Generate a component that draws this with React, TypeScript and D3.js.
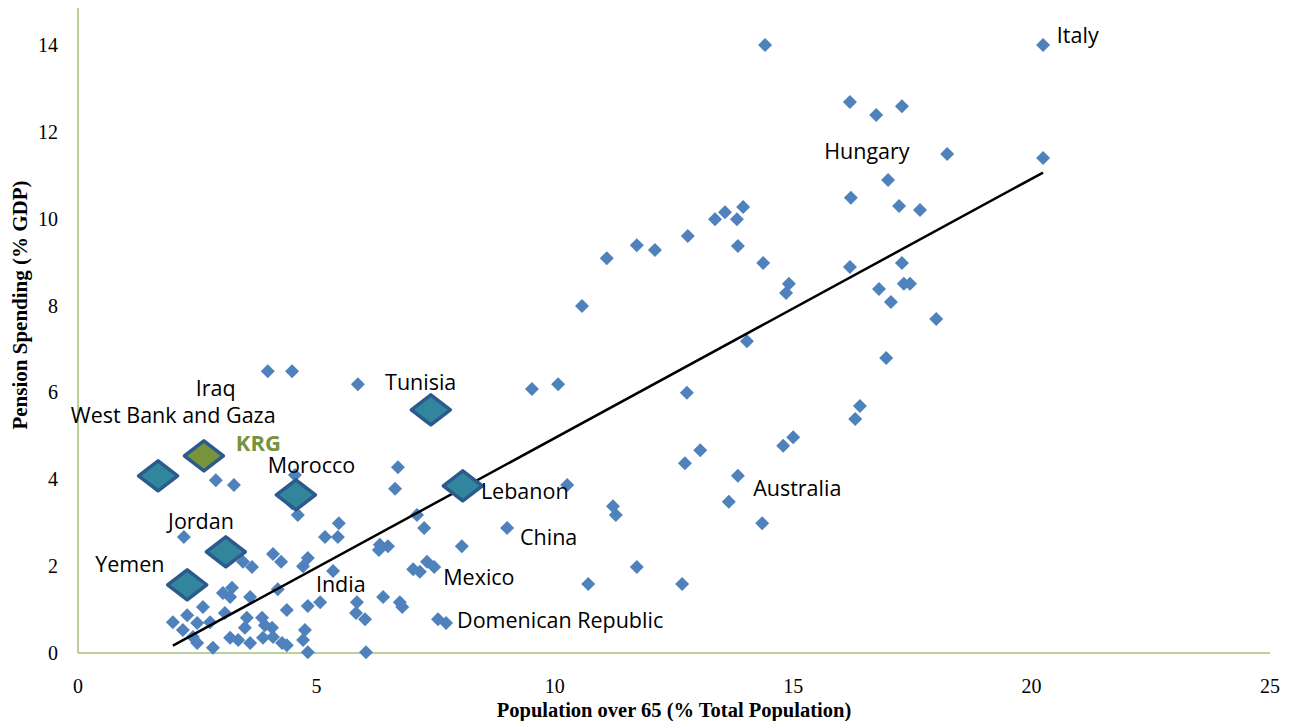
import React from "react";
import * as d3 from "d3";

// Small markers: population over 65 (% total) and pension spending (% GDP)
const popOver65 = [
  14.41, 20.24, 16.19, 16.74, 17.28, 18.23, 20.24, 16.99, 16.21, 17.22,
  17.66, 13.95, 13.57, 13.36, 13.82, 12.79, 11.72, 12.1, 11.09, 13.84,
  14.37, 16.19, 17.28, 14.91, 14.85, 16.8, 17.32, 17.45, 17.05, 18.0,
  10.57, 14.03, 16.95, 12.77, 16.4, 16.3, 15.0, 14.79, 13.05, 12.73,
  13.84, 13.65, 14.35, 9.52, 10.07, 10.26, 11.22, 11.28, 9.0, 8.05,
  11.72, 10.7, 12.67, 3.98, 4.49, 5.87, 2.89, 3.27, 4.55, 4.49,
  4.61, 6.71, 6.65, 5.47, 5.18, 5.45, 7.11, 7.26, 6.33, 6.5,
  6.31, 2.22, 4.09, 4.26, 3.46, 3.65, 4.82, 4.72, 5.35, 7.03,
  7.17, 7.32, 7.47, 4.19, 3.23, 3.04, 3.19, 3.61, 2.62, 4.38,
  4.82, 5.08, 5.85, 5.83, 6.02, 6.4, 6.75, 6.8, 7.55, 7.72,
  1.99, 2.29, 2.5, 2.2, 2.77, 3.08, 2.41, 2.5, 2.83, 3.19,
  3.36, 3.54, 3.5, 3.61, 3.86, 3.92, 3.88, 4.07, 4.09, 4.28,
  4.38, 4.76, 4.72, 4.82, 6.04,
];
const pensionSpending = [
  14.0, 14.0, 12.69, 12.39, 12.59, 11.49, 11.4, 10.89, 10.48, 10.29,
  10.2, 10.27, 10.15, 9.99, 9.99, 9.6, 9.39, 9.28, 9.09, 9.37,
  8.98, 8.89, 8.98, 8.5, 8.29, 8.38, 8.5, 8.5, 8.08, 7.69,
  7.99, 7.18, 6.79, 5.99, 5.69, 5.39, 4.97, 4.77, 4.67, 4.37,
  4.08, 3.48, 2.99, 6.08, 6.19, 3.87, 3.38, 3.18, 2.88, 2.46,
  1.98, 1.59, 1.59, 6.49, 6.49, 6.19, 3.98, 3.87, 4.1, 3.45,
  3.18, 4.28, 3.78, 2.99, 2.67, 2.67, 3.18, 2.88, 2.49, 2.46,
  2.37, 2.67, 2.28, 2.1, 2.1, 1.98, 2.19, 2.0, 1.89, 1.93,
  1.87, 2.1, 1.98, 1.47, 1.5, 1.38, 1.29, 1.29, 1.06, 0.99,
  1.08, 1.17, 1.17, 0.92, 0.78, 1.29, 1.17, 1.06, 0.78, 0.69,
  0.71, 0.87, 0.69, 0.53, 0.71, 0.92, 0.37, 0.23, 0.12, 0.35,
  0.3, 0.81, 0.58, 0.23, 0.81, 0.64, 0.35, 0.58, 0.37, 0.23,
  0.18, 0.53, 0.3, 0.02, 0.02,
];

// Highlighted (large) markers
const highlightNames = ["Tunisia", "West Bank and Gaza", "Morocco", "Lebanon", "Jordan", "Yemen", "KRG"];
const highlightX = [7.4, 1.68, 4.57, 8.07, 3.1, 2.29, 2.64];
const highlightY = [5.6, 4.08, 3.64, 3.85, 2.33, 1.57, 4.54];

// Linear trend line
const trendSlope = 0.597;
const trendIntercept = -1.02;

// Annotation labels (data coordinates of label's left edge / middle)
const labelTexts = [
  "Italy", "Hungary", "Tunisia", "Iraq", "West Bank and Gaza", "KRG", "Morocco",
  "Lebanon", "Australia", "China", "Jordan", "Yemen", "Mexico", "India", "Domenican Republic",
];
const labelX = [20.53, 15.65, 6.44, 2.47, -0.15, 3.31, 3.98, 8.45, 14.16, 9.27, 1.89, 0.36, 7.66, 4.99, 7.95];
const labelY = [14.23, 11.54, 6.22, 6.1, 5.48, 4.82, 4.31, 3.71, 3.78, 2.67, 3.04, 2.03, 1.73, 1.57, 0.76];

const xTicks = [0, 5, 10, 15, 20, 25];
const yTicks = [0, 2, 4, 6, 8, 10, 12, 14];

export default function App() {
  const W = 1295;
  const H = 721;
  const x = d3.scaleLinear().domain([0, 25]).range([78, 1270]);
  const y = d3.scaleLinear().domain([0, 14]).range([653, 45]);
  const axisColor = "#A6C17A";

  const xs = d3.extent(popOver65) as [number, number];
  const trend = d3.line<number>()
    .x((v) => x(v))
    .y((v) => y(trendSlope * v + trendIntercept))([xs[0], xs[1]]);

  const smallDiamond = (cx: number, cy: number) => {
    const r = 7;
    return `M${cx - r},${cy}L${cx},${cy - r}L${cx + r},${cy}L${cx},${cy + r}Z`;
  };
  const bigDiamond = (cx: number, cy: number) => {
    const rx = 19.5;
    const ry = 15;
    return `M${cx - rx},${cy}L${cx},${cy - ry}L${cx + rx},${cy}L${cx},${cy + ry}Z`;
  };

  const labelFont = "'Open Sans', 'Noto Sans', sans-serif";
  const serif = "'Liberation Serif', 'Times New Roman', serif";

  return (
    <>
      <style>{`body{margin:0;}`}</style>
      <svg width={W} height={H} style={{ display: "block", background: "#fff" }}>
        {/* axes */}
        <line x1={78} x2={78} y1={8} y2={653} stroke={axisColor} strokeWidth={1.5} />
        <line x1={78} x2={1270} y1={653} y2={653} stroke={axisColor} strokeWidth={1.5} />

        {yTicks.map((t) => (
          <text key={"y" + t} x={58} y={y(t)} dy="0.35em" textAnchor="end"
            fontFamily={serif} fontSize={20} fill="#000">{t}</text>
        ))}
        {xTicks.map((t) => (
          <text key={"x" + t} x={x(t)} y={693} textAnchor="middle"
            fontFamily={serif} fontSize={20} fill="#000">{t}</text>
        ))}

        <text x={674} y={716.5} textAnchor="middle" fontFamily={serif}
          fontWeight="bold" fontSize={20.5} fill="#000">Population over 65 (% Total Population)</text>
        <text transform="translate(20,305) rotate(-90)" dy="0.35em" textAnchor="middle"
          fontFamily={serif} fontWeight="bold" fontSize={21} fill="#000">Pension Spending (% GDP)</text>

        {/* small markers */}
        {popOver65.map((v, i) => (
          <path key={"p" + i} d={smallDiamond(x(v), y(pensionSpending[i]))} fill="#4F81BD" />
        ))}

        {/* trend line */}
        <path d={trend || ""} fill="none" stroke="#000" strokeWidth={2.5} />

        {/* highlighted markers */}
        {highlightNames.map((n, i) => (
          <path key={"h" + i} d={bigDiamond(x(highlightX[i]), y(highlightY[i]))}
            fill={n === "KRG" ? "#77933C" : "#31859C"} stroke="#2D5A8C" strokeWidth={3.5}
            strokeLinejoin="round" />
        ))}

        {/* labels */}
        {labelTexts.map((t, i) => (
          <text key={"l" + i} x={x(labelX[i])} y={y(labelY[i])} dy="0.35em"
            fontFamily={labelFont}
            fontSize={t === "KRG" ? 22 : 21.5}
            fontWeight={t === "KRG" ? "bold" : "normal"}
            fill={t === "KRG" ? "#77933C" : "#000"}>{t}</text>
        ))}
      </svg>
    </>
  );
}
